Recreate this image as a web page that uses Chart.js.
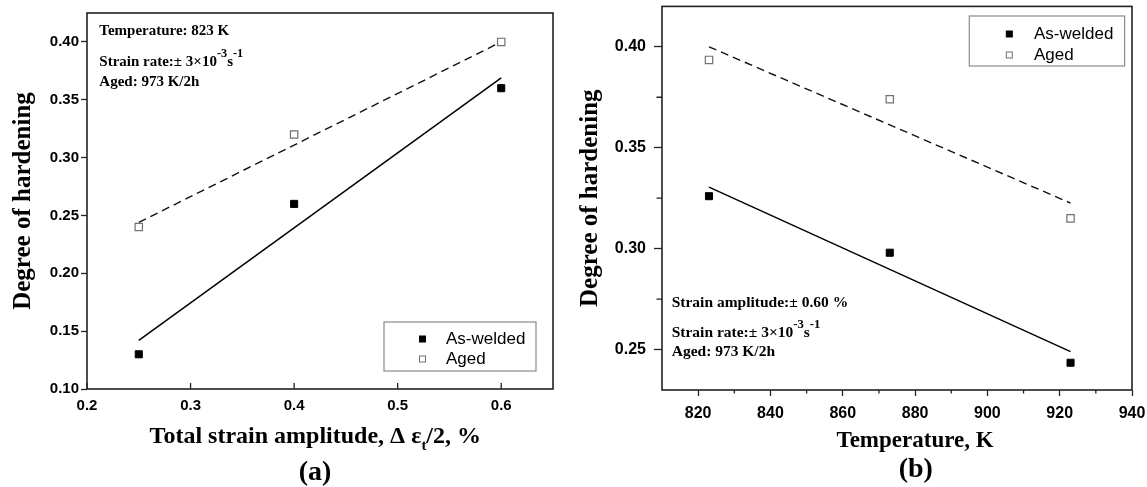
<!DOCTYPE html>
<html>
<head>
<meta charset="utf-8">
<script src="https://cdn.jsdelivr.net/npm/chart.js@4.4.0/dist/chart.umd.min.js"></script>
<style>
  html, body { margin: 0; padding: 0; background: #fff; }
  #wrap { position: relative; width: 1147px; height: 487px; }
  .panel { position: absolute; top: 0; height: 487px; }
  #panelA { left: 0; width: 570px; }
  #panelB { left: 570px; width: 577px; }
</style>
</head>
<body>
<div id="wrap">
  <div class="panel" id="panelA"><canvas id="chartA"></canvas></div>
  <div class="panel" id="panelB"><canvas id="chartB"></canvas></div>
</div>
<script>
// (a) degree of hardening vs total strain amplitude at 823 K
var strainAmp = [0.25, 0.40, 0.60];
var weldedA = [0.13, 0.26, 0.36];
var agedA = [0.24, 0.32, 0.40];
var fitWeldedA = [0.142, 0.369];   // fitted line at first and last strain amplitude
var fitAgedA = [0.244, 0.400];
var xTicksA = [0.2, 0.3, 0.4, 0.5, 0.6];
var yTicksA = [0.10, 0.15, 0.20, 0.25, 0.30, 0.35, 0.40];

// (b) degree of hardening vs temperature at +-0.60 %
var temps = [823, 873, 923];
var weldedB = [0.326, 0.298, 0.2435];
var agedB = [0.3935, 0.374, 0.315];
var fitWeldedB = [0.3305, 0.249];
var fitAgedB = [0.400, 0.3226];
var xTicksB = [820, 840, 860, 880, 900, 920, 940];
var yTicksB = [0.25, 0.30, 0.35, 0.40];
var xMinorB = [830, 850, 870, 890, 910, 930];
var yMinorB = [0.275, 0.325, 0.375];

var SERIF = '"Liberation Serif", "Times New Roman", serif';
var SANS = '"Liberation Sans", Arial, sans-serif';

function pts(xs, ys) {
  return xs.map(function (x, i) { return { x: x, y: ys[i] }; });
}
function ends(xs, ys) {
  return [{ x: xs[0], y: ys[0] }, { x: xs[xs.length - 1], y: ys[1] }];
}

function makeDatasets(xs, welded, aged, fitW, fitA) {
  return [
    { label: 'As-welded', data: pts(xs, welded), pointStyle: 'rect', pointRadius: 5,
      backgroundColor: '#000', borderColor: '#000', borderWidth: 1 },
    { label: 'Aged', data: pts(xs, aged), pointStyle: 'rect', pointRadius: 5.2,
      backgroundColor: '#fff', borderColor: '#707070', borderWidth: 1.2 },
    { label: 'fit', fit: true, data: ends(xs, fitW), showLine: true, pointRadius: 0,
      borderColor: '#000', borderWidth: 1.5 },
    { label: 'fit', fit: true, data: ends(xs, fitA), showLine: true, pointRadius: 0,
      borderColor: '#111', borderWidth: 1.4, borderDash: [8, 5] }
  ];
}

// text with superscript / subscript pieces
function drawRich(ctx, it) {
  var size = it.size;
  var segs = it.parts.map(function (p) {
    var s = typeof p === 'string' ? { t: p } : p;
    var fs = (s.sup || s.sub) ? size * (s.sub ? 0.62 : 0.82) : size;
    ctx.font = 'bold ' + fs + 'px ' + SERIF;
    return { t: s.t, fs: fs, w: ctx.measureText(s.t).width,
             dy: s.sup ? -size * 0.62 : (s.sub ? size * 0.3 : 0) };
  });
  var total = segs.reduce(function (a, s) { return a + s.w; }, 0);
  var x = it.align === 'center' ? it.x - total / 2 : it.x;
  ctx.save();
  ctx.fillStyle = '#000';
  ctx.textBaseline = 'alphabetic';
  ctx.textAlign = 'left';
  segs.forEach(function (s) {
    ctx.font = 'bold ' + s.fs + 'px ' + SERIF;
    ctx.fillText(s.t, x, it.y + s.dy);
    x += s.w;
  });
  ctx.restore();
}

var notesPlugin = {
  id: 'notes',
  afterDraw: function (chart, args, o) {
    o.items.forEach(function (it) { drawRich(chart.ctx, it); });
  }
};

// frame around the plot plus inner / minor tick marks
var framePlugin = {
  id: 'frame',
  afterDatasetsDraw: function (chart, args, o) {
    var ctx = chart.ctx, a = chart.chartArea;
    var xs = chart.scales.x, ys = chart.scales.y;
    ctx.save();
    ctx.strokeStyle = '#222';
    ctx.lineWidth = 1.6;
    ctx.strokeRect(a.left, a.top, a.right - a.left, a.bottom - a.top);
    ctx.lineWidth = 1.3;
    ctx.beginPath();
    (o.innerX || []).forEach(function (v) {
      var p = xs.getPixelForValue(v);
      ctx.moveTo(p, a.bottom); ctx.lineTo(p, a.bottom - 6);
    });
    (o.minorX || []).forEach(function (v) {
      var p = xs.getPixelForValue(v);
      ctx.moveTo(p, a.bottom); ctx.lineTo(p, a.bottom + 3.5);
    });
    (o.minorY || []).forEach(function (v) {
      var p = ys.getPixelForValue(v);
      ctx.moveTo(a.left, p); ctx.lineTo(a.left - 5.5, p);
    });
    ctx.stroke();
    ctx.restore();
  }
};

// boxed legend inside the plot
var boxLegendPlugin = {
  id: 'boxLegend',
  afterDraw: function (chart, args, o) {
    var ctx = chart.ctx;
    ctx.save();
    ctx.strokeStyle = '#8a8a8a';
    ctx.lineWidth = 1.2;
    ctx.strokeRect(o.left, o.top, o.width, o.height);
    ctx.font = '17px ' + SANS;
    ctx.textBaseline = 'middle';
    chart.data.datasets.filter(function (d) { return !d.fit; }).forEach(function (d, i) {
      var y = o.top + o.firstRow + i * o.rowGap;
      ctx.fillStyle = d.backgroundColor;
      ctx.strokeStyle = d.borderColor;
      ctx.lineWidth = 1;
      ctx.fillRect(o.markX - 3, y - 3, 6, 6);
      ctx.strokeRect(o.markX - 3, y - 3, 6, 6);
      ctx.fillStyle = '#000';
      ctx.fillText(d.label, o.textX, y);
    });
    ctx.restore();
  }
};

// fixed axis sizes so the plot area does not move with label widths
function fixSize(prop, size) {
  return function (s) {
    s[prop] = size;
    s.paddingTop = 0; s.paddingBottom = 0; s.paddingLeft = 0; s.paddingRight = 0;
  };
}

function makeScales(o) {
  return {
    x: {
      type: 'linear', min: o.xMin, max: o.xMax,
      afterBuildTicks: function (s) { s.ticks = o.xTicks.map(function (v) { return { value: v }; }); },
      afterFit: fixSize('height', o.xHeight),
      grid: { display: true, drawOnChartArea: false, drawTicks: o.xOut, tickLength: 6,
              tickWidth: 1.3, tickColor: '#222' },
      border: { display: false },
      ticks: { padding: o.xPad, color: '#000', maxRotation: 0,
               font: { family: SANS, weight: 'bold', size: o.xTickSize },
               callback: function (v) { return v.toFixed(o.xDec); } }
    },
    y: {
      type: 'linear', min: o.yMin, max: o.yMax,
      afterBuildTicks: function (s) { s.ticks = o.yTicks.map(function (v) { return { value: v }; }); },
      afterFit: fixSize('width', o.yWidth),
      grid: { display: true, drawOnChartArea: false, drawTicks: true, tickLength: o.yTickLen,
              tickWidth: 1.3, tickColor: '#222' },
      border: { display: false },
      ticks: { padding: o.yPad, color: '#000',
               font: { family: SANS, weight: 'bold', size: o.yTickSize },
               callback: function (v) { return v.toFixed(2); } },
      title: { display: true, text: 'Degree of hardening', color: '#000',
               font: { family: SERIF, weight: 'bold', size: 25, lineHeight: 1 },
               padding: { top: o.titlePad, bottom: 0 } }
    }
  };
}

Chart.defaults.animation = false;

new Chart(document.getElementById('chartA').getContext('2d'), {
  type: 'scatter',
  data: { datasets: makeDatasets(strainAmp, weldedA, agedA, fitWeldedA, fitAgedA) },
  options: {
    responsive: true,
    maintainAspectRatio: false,
    layout: { padding: { top: 13, right: 17, left: 0, bottom: 0 } },
    scales: makeScales({
      xMin: 0.2, xMax: 0.65, xTicks: xTicksA, xHeight: 98, xOut: false, xPad: 8, xTickSize: 15, xDec: 1,
      yMin: 0.10, yMax: 0.425, yTicks: yTicksA, yWidth: 87, yTickLen: 6, yPad: 2, yTickSize: 15, titlePad: 11.5
    }),
    plugins: {
      legend: { display: false },
      tooltip: { enabled: false },
      frame: { innerX: xTicksA },
      boxLegend: { left: 384, top: 322, width: 152, height: 49, firstRow: 17, rowGap: 20, markX: 422.5, textX: 446 },
      notes: { items: [
        { x: 99.3, y: 35, size: 15, parts: ['Temperature: 823 K'] },
        { x: 99.3, y: 66, size: 15, parts: ['Strain rate:\u00b1 3\u00d710', { t: '-3', sup: 1 }, 's', { t: '-1', sup: 1 }] },
        { x: 99.3, y: 86, size: 15, parts: ['Aged: 973 K/2h'] },
        { x: 315.3, y: 443, size: 24, align: 'center',
          parts: ['Total strain amplitude, \u0394 \u03b5', { t: 't', sub: 1 }, '/2, %'] },
        { x: 315, y: 480, size: 28, align: 'center', parts: ['(a)'] }
      ] }
    }
  },
  plugins: [framePlugin, boxLegendPlugin, notesPlugin]
});

new Chart(document.getElementById('chartB').getContext('2d'), {
  type: 'scatter',
  data: { datasets: makeDatasets(temps, weldedB, agedB, fitWeldedB, fitAgedB) },
  options: {
    responsive: true,
    maintainAspectRatio: false,
    layout: { padding: { top: 6, right: 15, left: 0, bottom: 0 } },
    scales: makeScales({
      xMin: 810, xMax: 940, xTicks: xTicksB, xHeight: 97, xOut: true, xPad: 8, xTickSize: 16, xDec: 0,
      yMin: 0.23, yMax: 0.42, yTicks: yTicksB, yWidth: 92, yTickLen: 8, yPad: 8, yTickSize: 16, titlePad: 8
    }),
    plugins: {
      legend: { display: false },
      tooltip: { enabled: false },
      frame: { minorX: xMinorB, minorY: yMinorB },
      boxLegend: { left: 399.3, top: 16, width: 155.3, height: 50, firstRow: 18, rowGap: 21, markX: 439.3, textX: 464 },
      notes: { items: [
        { x: 101.7, y: 306.7, size: 15.5, parts: ['Strain amplitude:\u00b1 0.60 %'] },
        { x: 101.7, y: 337.3, size: 15.5, parts: ['Strain rate:\u00b1 3\u00d710', { t: '-3', sup: 1 }, 's', { t: '-1', sup: 1 }] },
        { x: 101.7, y: 356, size: 15.5, parts: ['Aged: 973 K/2h'] },
        { x: 345, y: 446.7, size: 23, align: 'center', parts: ['Temperature, K'] },
        { x: 345.8, y: 477, size: 28, align: 'center', parts: ['(b)'] }
      ] }
    }
  },
  plugins: [framePlugin, boxLegendPlugin, notesPlugin]
});
</script>
</body>
</html>
